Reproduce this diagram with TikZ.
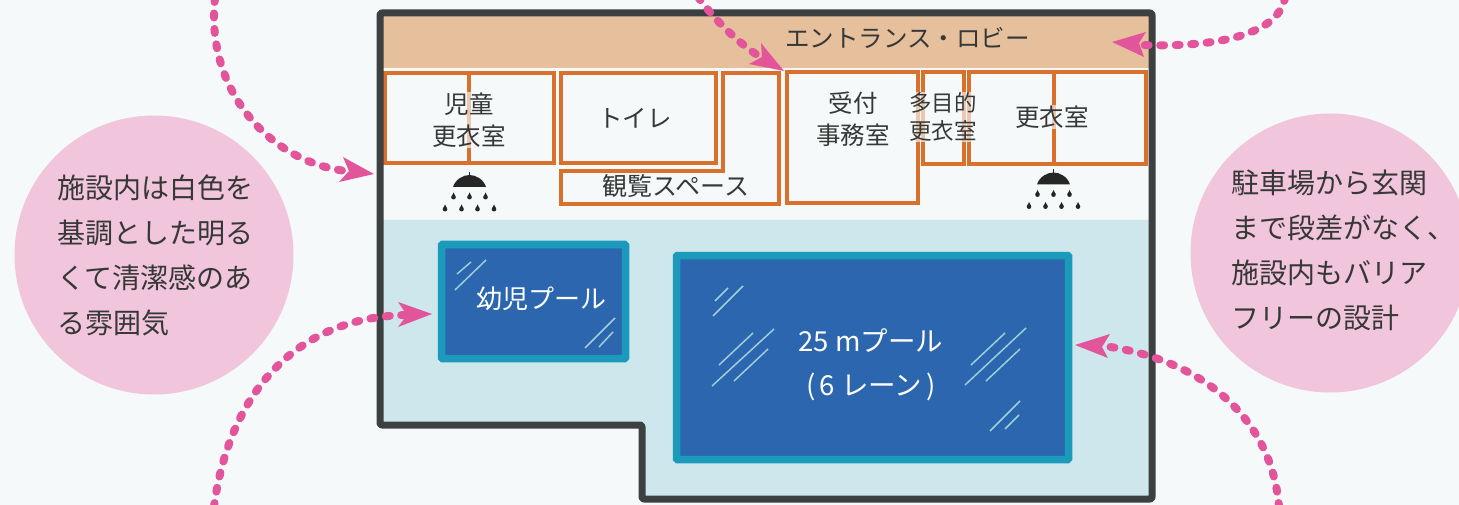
\documentclass[tikz,border=0pt]{standalone}
\usepackage{fontspec}
\setmainfont{Noto Sans CJK JP}
\definecolor{paper}{HTML}{F6F9F9}
\definecolor{wallc}{HTML}{3C4040}
\definecolor{lobbyc}{HTML}{E6BF9C}
\definecolor{waterc}{HTML}{CDE7EC}
\definecolor{roomc}{HTML}{D9702C}
\definecolor{rimc}{HTML}{1B9ABC}
\definecolor{poolc}{HTML}{2C66AE}
\definecolor{glintc}{HTML}{9CCFD8}
\definecolor{pinkc}{HTML}{E2559A}
\definecolor{bubblec}{HTML}{F1C5DB}
\definecolor{inkc}{HTML}{363838}
\tikzset{
  wall/.style={draw=wallc,line width=7pt,rounded corners=2pt,line join=round},
  room/.style={draw=roomc,line width=4pt,line join=miter},
  pool/.style={fill=poolc,draw=rimc,line width=7.5pt,rounded corners=1pt},
  glint/.style={draw=glintc,line width=1.5pt},
  dotted pink/.style={draw=pinkc,line width=8pt,line cap=round,dash pattern=on 4pt off 11.5pt},
  pinkhead/.style={fill=pinkc,draw=none},
  bubble/.style={circle,fill=bubblec,minimum size=279pt,inner sep=0pt},
  bubbletext/.style={anchor=west,align=left,text=inkc,inner sep=0pt,font=\fontsize{28}{45}\selectfont},
  label/.style={text=inkc,align=center,inner sep=1pt,fill=paper,fill opacity=.65,text opacity=1,font=\fontsize{24.5}{32}\selectfont},
  plain/.style={text=inkc,align=center,inner sep=0pt,font=\fontsize{24.5}{32}\selectfont},
  poollabel/.style={text=white,align=center,inner sep=0pt,font=\fontsize{26}{44}\selectfont},
  shower/.pic={
    \fill[black!85] (-16.5,0) .. controls (-14,-8) and (-6,-12) .. (0,-12) .. controls (6,-12) and (14,-8) .. (16.5,0) -- cycle;
    \fill[black!85] (-.8,-15) rectangle (.8,-10);
    \foreach \dx/\dy in {-16/8,0/8,16/8,-24.5/20,-8/20,8/20,24.5/20}{
      \fill[black!85] (\dx,\dy+2.2) circle[radius=2.3];
      \fill[black!85] (\dx-2,\dy+1.5) -- (\dx,\dy-2.5) -- (\dx+2,\dy+1.5) -- cycle;
    }
  }
}
\begin{document}
\begin{tikzpicture}[x=1pt,y=-1pt]
\useasboundingbox (0,0) rectangle (1459,505);
\fill[paper] (0,0) rectangle (1459,505);
% bubbles
\node[bubble] (bubbleL) at (154,255) {};
\node[bubble] (bubbleR) at (1330,253) {};
\node[bubbletext] (textL) at (57,255.5) {施設内は白色を\\基調とした明る\\くて清潔感のあ\\る雰囲気};
\node[bubbletext] (textR) at (1231,250.5) {駐車場から玄関\\まで段差がなく、\\施設内もバリア\\フリーの設計};
% floors
\fill[lobbyc] (380,13) rectangle (1152,68);
\fill[waterc] (380,220) -- (1152,220) -- (1152,499) -- (642,499) -- (642,425) -- (380,425) -- cycle;
% rooms
\draw[room] (385,73) rectangle (554,163);
\draw[room] (469,73) -- (469,163);
\draw[room] (561,73) rectangle (716,163);
\draw[room] (723,73) -- (779,73) -- (779,204) -- (561,204) -- (561,171) -- (723,171) -- cycle;
\draw[room] (787,72) rectangle (918,203);
\draw[room] (923,72) rectangle (964,164);
\draw[room] (969,72) rectangle (1146,164);
\draw[room] (1054,72) -- (1054,164);
% pools
\draw[pool] (441.5,244.5) rectangle (625.5,358.5);
\draw[pool] (676.5,255.5) rectangle (1068.5,459.5);
\foreach \a/\b in {
  {457,274}/{471,262},{455,290}/{486,260},{585,348}/{615,318},{599,347}/{613,332},
  {715,301}/{728,288},{713,316}/{743,286},{719,365}/{753,333},{712,386}/{774,329},{734,381}/{768,349},
  {971,365}/{1005,333},{965,385}/{1026,328},{986,381}/{1020,349},{990,431}/{1020,401},{1005,429}/{1019,415}}
  {\draw[glint] (\a) -- (\b);}
% outer wall
\draw[wall] (380,13) -- (1152,13) -- (1152,499) -- (642,499) -- (642,425) -- (380,425) -- cycle;
% showers
\pic at (469.5,187) {shower};
\pic at (1053.5,184.5) {shower};
% labels
\node[plain] (lobby) at (907.5,38) {エントランス・ロビー};
\node[label] (kids) at (469,120) {児童\\更衣室};
\node[plain] (wc) at (635,118) {トイレ};
\node[plain,font=\fontsize{25}{32}\selectfont] (view) at (676,186) {観覧スペース};
\node[plain] (office) at (853,119) {受付\\事務室};
\node[label,font=\fontsize{22.5}{28}\selectfont] (multi) at (943,117) {多目的\\更衣室};
\node[label] (change) at (1052,117) {更衣室};
\node[poollabel] (small) at (541,299) {幼児プール};
\node[poollabel,font=\fontsize{27.5}{44}\selectfont] (large) at (871,364.5) {25 mプール\\(\hspace{4pt}6 レーン\hspace{4pt})};
% connectors
\coordinate (a1s) at (215,-2); \coordinate (a1e) at (346,171);
\coordinate (a2s) at (698,-3); \coordinate (a2e) at (760,57);
\coordinate (a3s) at (1285,-3); \coordinate (a3e) at (1141,45);
\coordinate (a4s) at (214,507); \coordinate (a4e) at (405,315);
\coordinate (a5s) at (1279,507); \coordinate (a5e) at (1104,346);
\draw[dotted pink] (a1s) .. controls (205,90) and (270,162) .. (a1e);
\draw[dotted pink] (a2s) .. controls (715,20) and (735,40) .. (a2e);
\draw[dotted pink] (a3s) .. controls (1280,30) and (1230,48) .. (a3e);
\draw[dotted pink] (a4s) .. controls (228,400) and (290,318) .. (a4e);
\draw[dotted pink] (a5s) .. controls (1272,420) and (1205,360) .. (a5e);
\fill[pinkhead] (374,174) -- (343,157) -- (349,171) -- (339,182) -- cycle;
\fill[pinkhead] (784,71) -- (761,43) -- (762,57) -- (749,64) -- cycle;
\fill[pinkhead] (1112,42) -- (1146,32) -- (1139,43) -- (1144,57) -- cycle;
\fill[pinkhead] (432,314) -- (398,302) -- (407,315) -- (398,327) -- cycle;
\fill[pinkhead] (1075,345) -- (1110,334) -- (1102,347) -- (1108,358) -- cycle;
\end{tikzpicture}
\end{document}
